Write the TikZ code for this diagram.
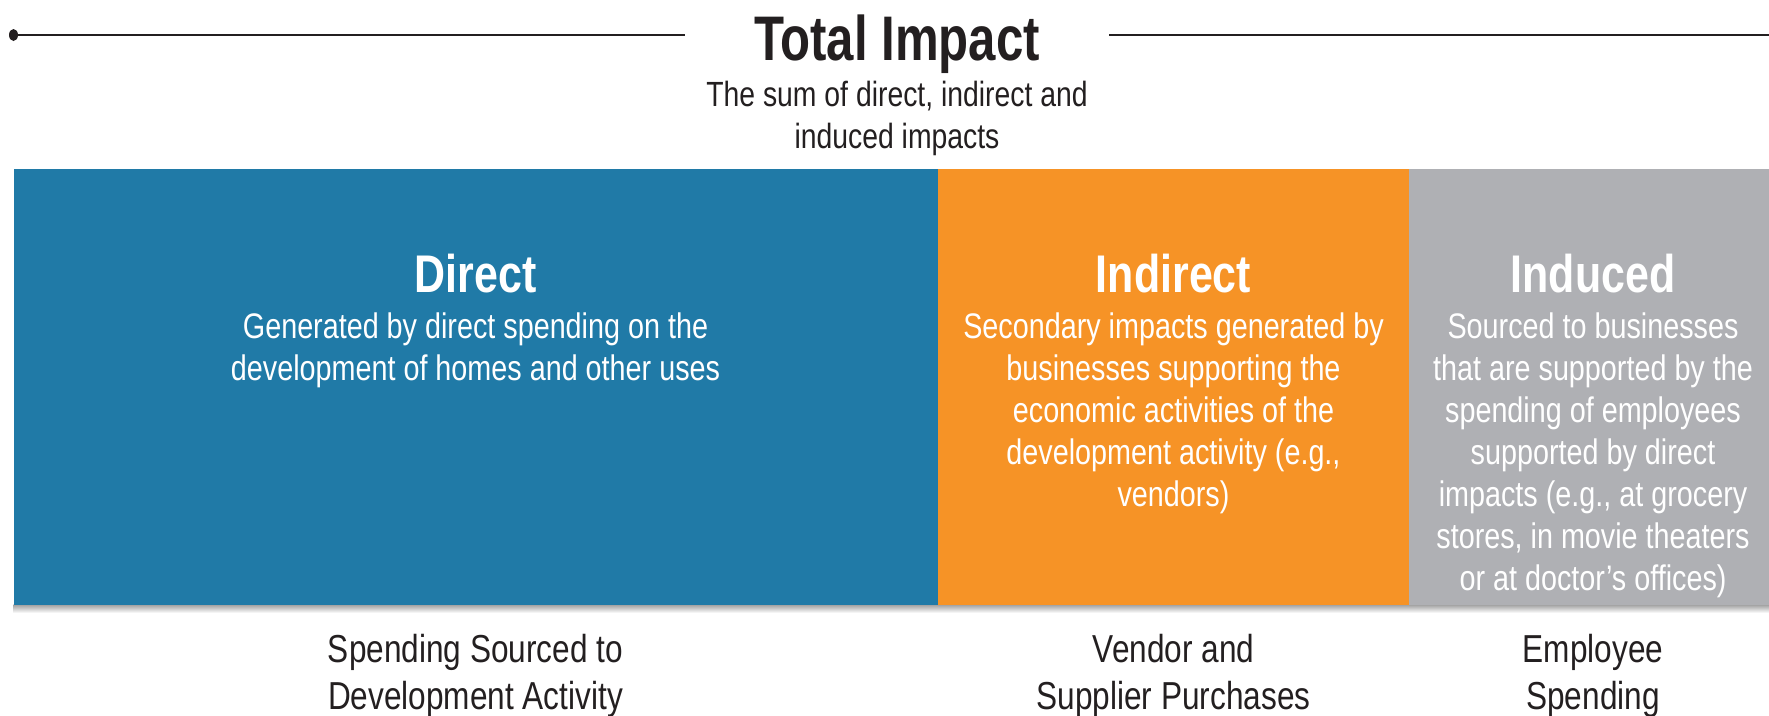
\documentclass[tikz,border=0pt]{standalone}
\usepackage{fontspec}
\setmainfont[FakeStretch=0.81]{Liberation Sans}
\newfontfamily\titlefont[FakeStretch=0.78]{Liberation Sans}
\begin{document}
\definecolor{inkdark}{RGB}{35,31,32}
\definecolor{dirblue}{RGB}{32,122,167}
\definecolor{indorange}{RGB}{246,147,38}
\definecolor{indgrey}{RGB}{175,176,180}
% multi-line nodes are placed by the baseline of their last line
\begin{tikzpicture}[x=1pt,y=-1pt,
  every node/.style={inner sep=0pt,outer sep=0pt},
  headtxt/.style={anchor=base,text=white,font=\fontsize{53}{60}\selectfont\bfseries},
  bodytxt/.style={anchor=base,text=white,align=center,font=\fontsize{35.5}{42}\selectfont},
  foottxt/.style={anchor=base,text=inkdark,align=center,font=\fontsize{39}{47}\selectfont},
  rule/.style={draw=inkdark,line width=2.8pt}]
\useasboundingbox (0,0) rectangle (1769,715);
% title bar
\node[anchor=base,text=inkdark,font=\titlefont\fontsize{63}{70}\selectfont\bfseries] (title) at (897,60) {Total Impact};
\node[anchor=base,text=inkdark,align=center,font=\fontsize{35}{41.5}\selectfont] (subtitle) at (897,148) {The sum of direct, indirect and\\induced impacts};
\coordinate (lstart) at (13.5,35);
\coordinate (lend) at (685,35);
\coordinate (rstart) at (1109,35);
\coordinate (rend) at (1769,35);
\draw[rule] (lstart) -- (lend);
\draw[rule] (rstart) -- (rend);
\fill[inkdark] (lstart) ellipse (4.5pt and 6pt);
% soft shadow under the bars
\shade[top color=black!40, bottom color=white] (13.5,604) rectangle (1769,613);
% the three bars
\fill[dirblue] (13.5,169) rectangle (938,605);
\fill[indorange] (938,169) rectangle (1409,605);
\fill[indgrey] (1409,169) rectangle (1769,605);
% direct
\node[headtxt] (dirhead) at (475.5,292) {Direct};
\node[bodytxt] (dirbody) at (475.5,380) {Generated by direct spending on the\\development of homes and other uses};
% indirect
\node[headtxt] (indhead) at (1173.5,292) {Indirect};
\node[bodytxt] (indbody) at (1173.5,506) {Secondary impacts generated by\\businesses supporting the\\economic activities of the\\development activity (e.g.,\\vendors)};
% induced
\node[headtxt] (inuhead) at (1593,292) {Induced};
\node[bodytxt] (inubody) at (1593,590) {Sourced to businesses\\that are supported by the\\spending of employees\\supported by direct\\impacts (e.g., at grocery\\stores, in movie theaters\\or at doctor’s offices)};
% labels under the bars
\node[foottxt] (dirfoot) at (475.5,709) {Spending Sourced to\\Development Activity};
\node[foottxt] (indfoot) at (1173.5,709) {Vendor and\\Supplier Purchases};
\node[foottxt] (inufoot) at (1593,709) {Employee\\Spending};
\end{tikzpicture}
\end{document}
